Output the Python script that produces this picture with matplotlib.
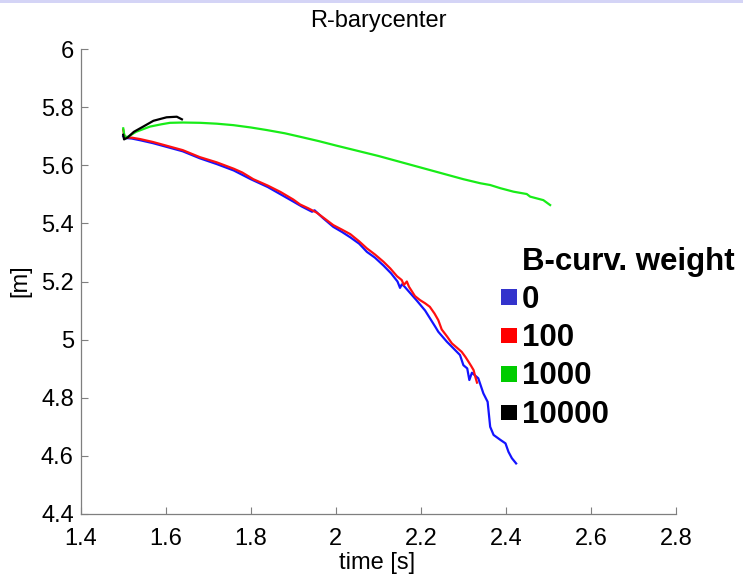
import matplotlib
matplotlib.use("Agg")
import matplotlib.pyplot as plt
from matplotlib.patches import Rectangle

plt.rcParams['font.family'] = ['Liberation Sans', 'DejaVu Sans']

# ---------------- data ----------------
labels = ["0", "100", "1000", "10000"]
line_colors = ["#1414ff", "#ff1010", "#18ec18", "#000000"]
patch_colors = ["#3333cc", "#ff0000", "#00cc00", "#000000"]

t_0 = [1.500, 1.503, 1.52, 1.54, 1.57, 1.60, 1.64, 1.68, 1.72, 1.76, 1.80, 1.84,
       1.87, 1.90, 1.92, 1.944, 1.950, 1.97, 1.994, 2.015, 2.034, 2.055, 2.073,
       2.092, 2.112, 2.13, 2.145, 2.151, 2.155, 2.160, 2.175, 2.19, 2.21, 2.234,
       2.241, 2.261, 2.280, 2.292, 2.300, 2.309, 2.314, 2.320, 2.335, 2.347,
       2.357, 2.363, 2.371, 2.387, 2.399, 2.406, 2.414, 2.424]
r_0 = [5.700, 5.694, 5.692, 5.686, 5.676, 5.664, 5.648, 5.624, 5.604, 5.582,
       5.552, 5.525, 5.500, 5.475, 5.458, 5.440, 5.445, 5.418, 5.388, 5.370,
       5.352, 5.330, 5.302, 5.282, 5.255, 5.228, 5.200, 5.178, 5.190, 5.185,
       5.160, 5.135, 5.100, 5.044, 5.027, 4.993, 4.965, 4.947, 4.912, 4.901,
       4.861, 4.886, 4.867, 4.815, 4.786, 4.700, 4.672, 4.655, 4.643, 4.614,
       4.592, 4.574]

t_100 = [1.500, 1.502, 1.505, 1.52, 1.54, 1.57, 1.60, 1.64, 1.68, 1.72, 1.76,
         1.78, 1.806, 1.84, 1.87, 1.90, 1.916, 1.935, 1.955, 1.975, 1.994, 2.015,
         2.034, 2.055, 2.073, 2.092, 2.112, 2.128, 2.144, 2.155, 2.160, 2.167,
         2.172, 2.186, 2.198, 2.210, 2.221, 2.232, 2.241, 2.249, 2.262, 2.273,
         2.285, 2.296, 2.305, 2.312, 2.318, 2.324, 2.328, 2.332]
r_100 = [5.722, 5.705, 5.696, 5.695, 5.690, 5.680, 5.668, 5.652, 5.628, 5.610,
         5.588, 5.575, 5.552, 5.530, 5.508, 5.482, 5.465, 5.452, 5.437, 5.415,
         5.394, 5.378, 5.363, 5.338, 5.314, 5.293, 5.268, 5.245, 5.218, 5.205,
         5.188, 5.200, 5.182, 5.150, 5.136, 5.125, 5.113, 5.090, 5.067, 5.035,
         5.010, 4.987, 4.972, 4.958, 4.940, 4.924, 4.910, 4.895, 4.872, 4.852]

t_1000 = [1.500, 1.503, 1.510, 1.53, 1.563, 1.59, 1.61, 1.64, 1.681, 1.72, 1.759,
          1.80, 1.838, 1.88, 1.916, 1.96, 2.00, 2.05, 2.10, 2.15, 2.20, 2.25,
          2.30, 2.340, 2.363, 2.387, 2.418, 2.449, 2.457, 2.488, 2.504]
r_1000 = [5.727, 5.700, 5.697, 5.715, 5.733, 5.741, 5.746, 5.747, 5.746, 5.743,
          5.738, 5.730, 5.721, 5.710, 5.698, 5.683, 5.668, 5.650, 5.632, 5.612,
          5.592, 5.572, 5.552, 5.538, 5.532, 5.521, 5.509, 5.501, 5.492, 5.480,
          5.463]

t_10000 = [1.500, 1.502, 1.51, 1.525, 1.547, 1.571, 1.602, 1.626, 1.638]
r_10000 = [5.705, 5.689, 5.695, 5.715, 5.733, 5.753, 5.765, 5.767, 5.758]

series_t = [t_0, t_100, t_1000, t_10000]
series_r = [r_0, r_100, r_1000, r_10000]

xticks = [1.4, 1.6, 1.8, 2.0, 2.2, 2.4, 2.6, 2.8]
xtick_labels = ["1.4", "1.6", "1.8", "2", "2.2", "2.4", "2.6", "2.8"]
yticks = [4.4, 4.6, 4.8, 5.0, 5.2, 5.4, 5.6, 5.8, 6.0]
ytick_labels = ["4.4", "4.6", "4.8", "5", "5.2", "5.4", "5.6", "5.8", "6"]

# ---------------- figure ----------------
W, H = 743, 577
fig = plt.figure(figsize=(W / 100, H / 100), dpi=100)
ax = fig.add_axes([80.7 / W, 1 - 514 / H, (676 - 80.7) / W, (514 - 49) / H])

for t, r, c in zip(series_t, series_r, line_colors):
    ax.plot(t, r, color=c, lw=1.6, solid_joinstyle='round')

ax.set_xlim(1.4, 2.8)
ax.set_ylim(4.4, 6.0)
ax.set_xticks(xticks)
ax.set_xticklabels(xtick_labels)
ax.set_yticks(yticks)
ax.set_yticklabels(ytick_labels)

gray = "#7f7f7f"
for s in ["top", "right"]:
    ax.spines[s].set_visible(False)
for s in ["left", "bottom"]:
    ax.spines[s].set_color(gray)
    ax.spines[s].set_linewidth(0.9)
ax.tick_params(direction='in', length=5, width=0.8, color=gray,
               labelsize=17, labelcolor='black')
ax.tick_params(axis='x', pad=10)
ax.tick_params(axis='y', pad=5)

def fx(px):
    return px / W

def fy(py):
    return 1 - py / H

fig.text(fx(378), fy(21), "R-barycenter", fontsize=17, ha='center', va='center')
fig.text(fx(377), fy(563), "time [s]", fontsize=17, ha='center', va='center')
fig.text(fx(20), fy(281), "[m]", fontsize=17, ha='center', va='center',
         rotation=90)

# legend (manual, placed outside the axes on the right)
fig.text(fx(522), fy(270), "B-curv. weight", fontsize=22.5, fontweight='bold',
         ha='left', va='baseline')
for i, (lab, pc) in enumerate(zip(labels, patch_colors)):
    base = 307.5 + 38.5 * i
    fig.text(fx(522), fy(base), lab, fontsize=22.5, fontweight='bold',
             ha='left', va='baseline')
    fig.patches.append(Rectangle((fx(501), fy(base - 3)), 16 / W, 15.5 / H,
                                 transform=fig.transFigure, facecolor=pc,
                                 edgecolor='none'))

# light band at the top of the picture
fig.patches.append(Rectangle((0, fy(3)), 1, 3 / H, transform=fig.transFigure,
                             facecolor="#d4d4f6", edgecolor='none'))

fig.savefig("out.png", dpi=100)
